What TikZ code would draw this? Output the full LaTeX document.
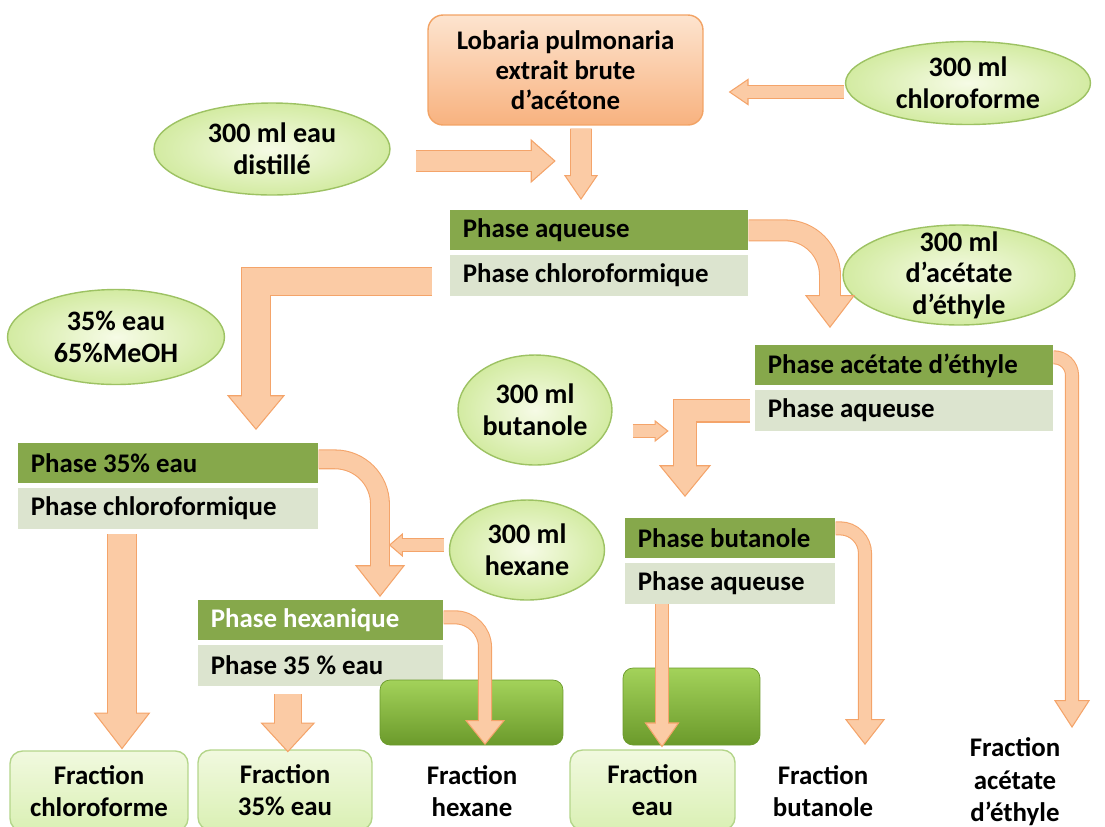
\documentclass[tikz,border=0pt]{standalone}
\usepackage{fontspec}
\setmainfont{Carlito}
\usetikzlibrary{shapes.geometric,arrows.meta,positioning,calc}

\definecolor{arrowfill}{HTML}{FBCBA5}
\definecolor{arrowline}{HTML}{F4A46A}
\definecolor{boxtop}{HTML}{FDE4CF}
\definecolor{boxbot}{HTML}{F8B27F}
\definecolor{boxline}{HTML}{F2A365}
\definecolor{ellin}{HTML}{F6FBE6}
\definecolor{ellout}{HTML}{D3EBA2}
\definecolor{ellline}{HTML}{9DC263}
\definecolor{bardark}{HTML}{86A84B}
\definecolor{barlight}{HTML}{DCE4CF}
\definecolor{greentop}{HTML}{A3D25A}
\definecolor{greenbot}{HTML}{6B9A2B}
\definecolor{fractop}{HTML}{F1F9DF}
\definecolor{fracbot}{HTML}{DAF0B4}
\definecolor{fracline}{HTML}{B4D58A}

\tikzset{
  centred/.style={text width=#1, execute at begin node={\centering\spaceskip=0pt\xspaceskip=0pt}},
  startbox/.style={rectangle, rounded corners=0.3cm, draw=boxline, line width=0.8pt,
    top color=boxtop, bottom color=boxbot, minimum width=5.5cm, minimum height=2.2cm,
    centred=5cm, font=\bfseries\fontsize{15.3}{17}\selectfont},
  solvent/.style={ellipse, draw=ellline, line width=0.8pt, inner color=ellin,
    outer color=ellout, inner sep=-25pt, centred=3cm, font=\bfseries\fontsize{16}{18}\selectfont},
  phasedark/.style={anchor=north west, fill=bardark, minimum height=0.8cm,
    inner xsep=0.25cm, inner ysep=0pt, execute at begin node={\spaceskip=0pt\xspaceskip=0pt}},
  phaselight/.style={phasedark, fill=barlight, minimum height=0.82cm},
  greenbox/.style={rectangle, rounded corners=0.2cm, draw=greenbot,
    top color=greentop, bottom color=greenbot},
  fracbox/.style={rectangle, rounded corners=0.25cm, draw=fracline, line width=0.8pt,
    top color=fractop, bottom color=fracbot, minimum height=1.6cm, inner xsep=0pt, centred=3.2cm},
  fraction/.style={centred=3.2cm},
  fat/.style n args={3}{line width=#1-1.2pt, draw=arrowfill, shorten >=#2-1pt,
    preaction={draw=arrowline, line width=#1, shorten >=0pt,
      -{Triangle[length=#2, width=#3, line width=0.6pt, fill=arrowfill, color=arrowline]}}},
}

\begin{document}
\begin{tikzpicture}[x=0.02cm, y=-0.02cm, font=\bfseries\fontsize{15.3}{18.5}\selectfont]
\useasboundingbox (0,0) rectangle (1105,826);
\clip (0,0) rectangle (1105,826);

% extrait et solvants
\node[startbox] (top) at (565.5,70) {Lobaria pulmonaria\\extrait brute\\d’acétone};
\node[solvent, minimum width=4.9cm, minimum height=1.66cm] (chl) at (968,83) {300 ml\\chloroforme};
\node[solvent, minimum width=4.72cm, minimum height=1.84cm] (dist) at (272,149) {300 ml eau\\distillé};
\node[solvent, minimum width=4.64cm, minimum height=2cm] (acet) at (959,275) {300 ml\\d’acétate\\d’éthyle};
\node[solvent, minimum width=4.34cm, minimum height=1.9cm] (meoh) at (116,337) {35\% eau\\65\%MeOH};
\node[solvent, minimum width=3.08cm, minimum height=2.2cm] (buta) at (535,410) {300 ml\\butanole};
\node[solvent, minimum width=3.1cm, minimum height=2cm] (hexa) at (527,550) {300 ml\\hexane};

% phases
\node[phasedark, text width=5.46cm] (aq1) at (450,210) {Phase aqueuse};
\node[phaselight, text width=5.46cm, below right=0.08cm and 0cm of aq1.south west] (chl1) {Phase chloroformique};
\node[phasedark, text width=5.46cm] (ac2) at (755,345) {Phase acétate d’éthyle};
\node[phaselight, text width=5.46cm, below right=0.08cm and 0cm of ac2.south west] (aq2) {Phase aqueuse};
\node[phasedark, text width=5.5cm] (e35) at (18,443) {Phase 35\% eau};
\node[phaselight, text width=5.5cm, below right=0.08cm and 0cm of e35.south west] (chl3) {Phase chloroformique};
\node[phasedark, text width=3.7cm] (but4) at (625,518) {Phase butanole};
\node[phaselight, text width=3.7cm, below right=0.08cm and 0cm of but4.south west] (aq4) {Phase aqueuse};
\node[phasedark, text width=4.4cm, text=white] (hex5) at (198,600) {Phase hexanique};
\node[phaselight, text width=4.4cm, below right=0.08cm and 0cm of hex5.south west] (e5) {Phase 35 \% eau};

% blocs verts
\node[greenbox, minimum width=3.66cm, minimum height=1.3cm] (gb1) at (471.5,712.5) {};
\node[greenbox, minimum width=2.74cm, minimum height=1.54cm] (gb2) at (691.5,706.5) {};

% fractions
\node[fracbox, minimum width=3.56cm] (fchl) at (99,791) {Fraction\\chloroforme};
\node[fracbox, minimum width=3.48cm] (f35) at (285,790) {Fraction\\35\% eau};
\node[fraction] (fhex) at (472,791) {Fraction\\hexane};
\node[fracbox, minimum width=3.3cm] (feau) at (652.5,790) {Fraction\\eau};
\node[fraction] (fbut) at (823,791) {Fraction\\butanole};
\node[fraction] (fac) at (1015,782) {Fraction\\acétate\\d’éthyle};

\coordinate (tipac) at (1072,728);
\coordinate (tipbut) at (865,745);
\coordinate (tiphex) at (485,745);

% fleches
\draw[fat={8.5pt}{11.3pt}{15.3pt}] ($(chl.west)+(-1,9)$) -- ($(top.east)+(25,22)$);
\draw[fat={12.5pt}{14.2pt}{25pt}] ($(dist.east)+(25,12)$) -- ++(140,0);
\draw[fat={12.5pt}{14.2pt}{19.3pt}] ($(top.south)+(15.5,3)$) -- ($(aq1.north west)+(131,-10)$);
\draw[fat={12.5pt}{18.7pt}{28.4pt}, rounded corners=0.9cm] (aq1.east) -| ($(ac2.north west)+(75,-17)$);
\draw[fat={17pt}{19.8pt}{32.9pt}] ($(chl1.west)+(-18,6)$) -| ($(e35.north west)+(238,-13)$);
\draw[fat={8pt}{15.9pt}{20.4pt}, rounded corners=0.36cm] ($(ac2.east)+(0,-8)$) -| (tipac);
\draw[fat={8pt}{8pt}{12.5pt}] ($(buta.east)+(20,21)$) -- ++(36,0);
\draw[fat={13.6pt}{18.1pt}{29.5pt}] ($(aq2.west)+(-5,0)$) -| ($(but4.north west)+(60,-21)$);
\draw[fat={11.3pt}{18.1pt}{28.4pt}, rounded corners=0.9cm] ($(e35.east)+(0,-4)$) -| ($(hex5.north west)+(182,-3)$);
\draw[fat={8pt}{8pt}{13.6pt}] ($(hexa.west)+(-5,-5)$) -- ++(-55,0);
\draw[fat={8pt}{14.7pt}{22.7pt}, rounded corners=0.5cm] ($(but4.east)+(0,-10)$) -| (tipbut);
\draw[fat={8pt}{14.2pt}{22.7pt}, rounded corners=0.6cm] ($(hex5.east)+(0,-3)$) -| (tiphex);
\draw[fat={15.9pt}{17pt}{31.2pt}] ($(e5.south)+(-33,8)$) -- ++(0,58);
\draw[fat={8.5pt}{14.2pt}{19.8pt}] ($(aq4.south west)+(37,0)$) -- ++(0,143);
\draw[fat={17pt}{21pt}{32.3pt}] ($(chl3.south west)+(104,5)$) -- ++(0,215);
\end{tikzpicture}
\end{document}
